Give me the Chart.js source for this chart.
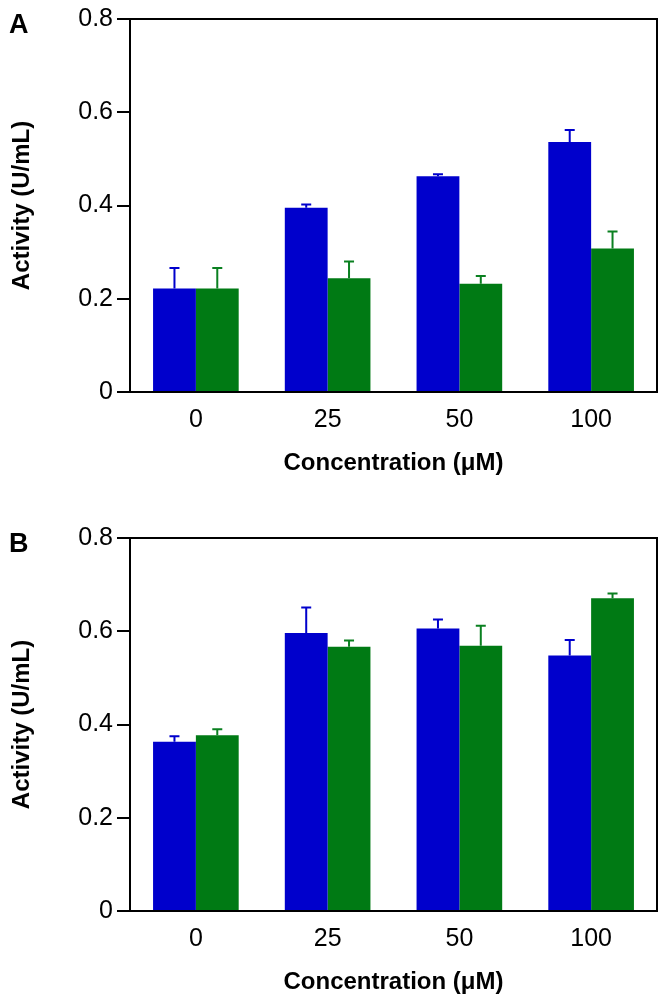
<!DOCTYPE html>
<html>
<head>
<meta charset="utf-8">
<script src="https://cdn.jsdelivr.net/npm/chart.js@4/dist/chart.umd.min.js"></script>
<style>
  html, body { margin: 0; padding: 0; background: #fff; }
  body { width: 667px; height: 1001px; position: relative; overflow: hidden; font-family: "Liberation Sans", Arial, sans-serif; }
  .panel { position: absolute; left: 0; width: 667px; height: 483px; }
  .lbl { position: absolute; font-weight: bold; font-size: 27px; color: #000; line-height: 1; }
</style>
</head>
<body>
<div class="panel" style="top:0px"><canvas id="cA" width="667" height="483"></canvas><div class="lbl" style="left:9px;top:11px">A</div></div>
<div class="panel" style="top:519px"><canvas id="cB" width="667" height="483"></canvas><div class="lbl" style="left:9px;top:11px">B</div></div>
<script>
// ---- data ----
const categories = ['0', '25', '50', '100'];
const yTickLabels = ['0', '0.2', '0.4', '0.6', '0.8'];
const xTitle = 'Concentration (\u03BCM)';
const yTitle = 'Activity (U/mL)';

const blueA = [0.222, 0.395, 0.463, 0.536];
const blueErrA = [0.044, 0.007, 0.004, 0.026];
const greenA = [0.222, 0.244, 0.232, 0.308];
const greenErrA = [0.044, 0.036, 0.017, 0.036];

const blueB = [0.363, 0.596, 0.606, 0.548];
const blueErrB = [0.012, 0.055, 0.019, 0.033];
const greenB = [0.377, 0.567, 0.569, 0.671];
const greenErrB = [0.013, 0.013, 0.043, 0.010];

const FONT = '"Liberation Sans", Arial, sans-serif';
const BLUE = '#0000CC';
const GREEN = '#007A14';

const errorBarPlugin = {
  id: 'errorBars',
  afterDatasetsDraw(chart) {
    const ctx = chart.ctx;
    const ys = chart.scales.y;
    chart.data.datasets.forEach((ds, i) => {
      const meta = chart.getDatasetMeta(i);
      ctx.save();
      ctx.strokeStyle = ds.errColor;
      ctx.lineWidth = 2;
      meta.data.forEach((el, j) => {
        const v = ds.data[j], e = ds.errors[j];
        const yt = ys.getPixelForValue(v + e);
        ctx.beginPath();
        ctx.moveTo(el.x, el.y);
        ctx.lineTo(el.x, yt);
        ctx.moveTo(el.x - 5, yt);
        ctx.lineTo(el.x + 5, yt);
        ctx.stroke();
      });
      ctx.restore();
    });
  }
};

const boxPlugin = {
  id: 'box',
  afterDraw(chart) {
    const a = chart.chartArea, ctx = chart.ctx;
    ctx.save();
    ctx.strokeStyle = '#000';
    ctx.lineWidth = 2;
    ctx.beginPath();
    ctx.moveTo(a.left, a.top);
    ctx.lineTo(a.right, a.top);
    ctx.lineTo(a.right, a.bottom);
    ctx.stroke();
    ctx.restore();
  }
};

function makeChart(id, blue, blueErr, green, greenErr) {
  return new Chart(document.getElementById(id), {
    type: 'bar',
    data: {
      labels: categories,
      datasets: [
        { data: blue, errors: blueErr, backgroundColor: BLUE, errColor: BLUE, borderWidth: 0 },
        { data: green, errors: greenErr, backgroundColor: GREEN, errColor: '#0A8020', borderWidth: 0 }
      ]
    },
    options: {
      responsive: false,
      animation: false,
      devicePixelRatio: 1,
      layout: { padding: { top: 17, right: 10, left: 0, bottom: 0 } },
      plugins: { legend: { display: false }, tooltip: { enabled: false } },
      datasets: { bar: { categoryPercentage: 0.65, barPercentage: 1.0 } },
      scales: {
        x: {
          grid: { display: false },
          border: { display: true, color: '#000', width: 2 },
          ticks: { color: '#000', font: { family: FONT, size: 25 }, padding: 5 },
          title: { display: true, text: xTitle, color: '#000', font: { family: FONT, size: 24, weight: 'bold' }, padding: { top: 0, bottom: 5 } },
          afterFit(s) { s.height = 91; }
        },
        y: {
          min: 0, max: 0.8,
          grid: { drawOnChartArea: false, drawTicks: true, tickLength: 13, color: '#000', lineWidth: 2 },
          border: { display: true, color: '#000', width: 2 },
          ticks: {
            stepSize: 0.2, color: '#000', padding: 4,
            font: { family: FONT, size: 25 },
            callback: (v, idx) => yTickLabels[idx]
          },
          title: { display: true, text: yTitle, color: '#000', font: { family: FONT, size: 24, weight: 'bold' }, padding: { top: 8, bottom: 0 } },
          afterFit(s) { s.width = 130; }
        }
      }
    },
    plugins: [errorBarPlugin, boxPlugin]
  });
}

makeChart('cA', blueA, blueErrA, greenA, greenErrA);
makeChart('cB', blueB, blueErrB, greenB, greenErrB);
</script>
</body>
</html>
